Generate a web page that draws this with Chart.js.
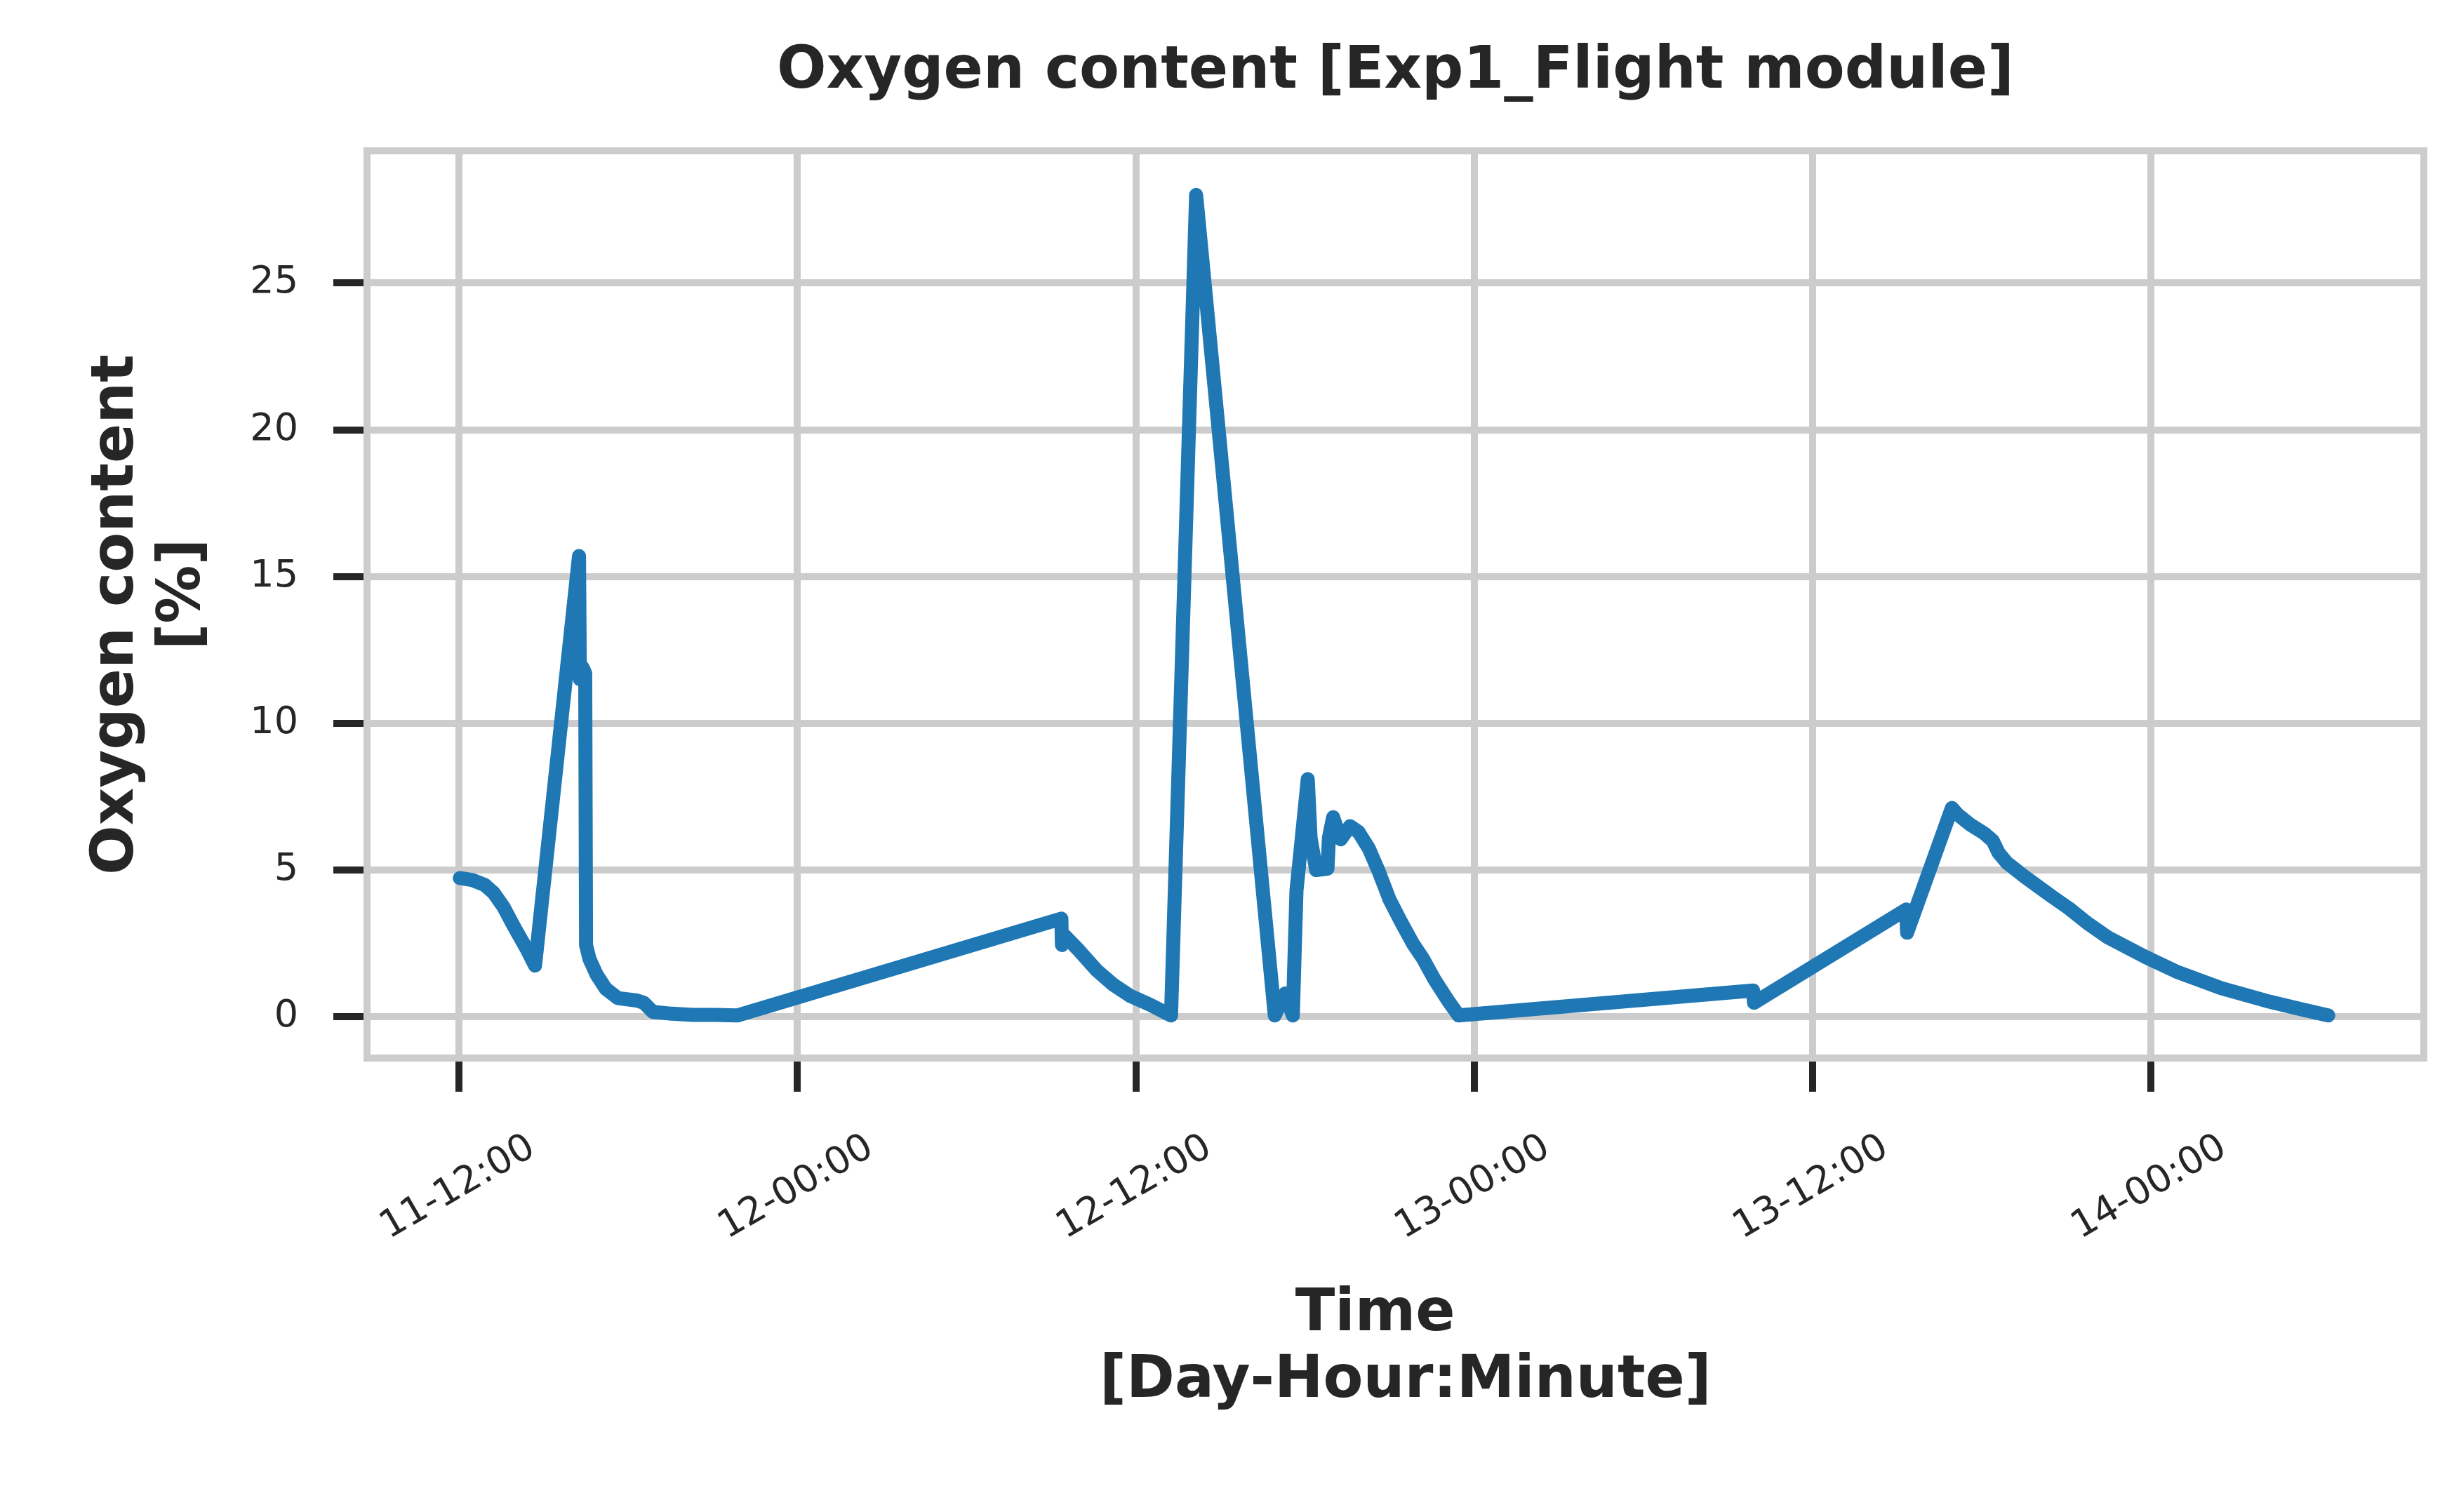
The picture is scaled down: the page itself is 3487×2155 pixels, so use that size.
<!DOCTYPE html>
<html>
<head>
<meta charset="utf-8">
<script src="https://cdn.jsdelivr.net/npm/chart.js@4.4.1/dist/chart.umd.min.js"></script>
<style>
  html, body { margin: 0; padding: 0; background: #ffffff; }
  canvas { display: block; }
</style>
</head>
<body>
<canvas id="oxygenChart" width="3487" height="2155"></canvas>
<script>
// Time in hours since day 11, 00:00
const hours = [
  12.02, 12.47, 12.9, 13.22, 13.57, 13.97, 14.39, 14.69,
  16.25, 16.28, 16.38, 16.47, 16.5, 16.62, 16.88, 17.2, 17.63, 18.3, 18.55, 18.87, 19.44, 20.3, 21.1, 21.86,
  33.36, 33.38, 33.5, 34.0, 34.6, 35.2, 35.8, 36.5, 37.25,
  38.14, 40.93, 41.3, 41.57, 41.7, 42.1, 42.2, 42.4, 42.8, 42.85, 43.0, 43.27, 43.6, 43.9,
  44.26, 44.6, 45.0, 45.43, 45.83, 46.18, 46.58, 47.08, 47.45,
  57.9, 57.93, 63.33, 63.36, 64.95, 65.15, 65.6, 66.1, 66.4, 66.6, 66.9, 67.5,
  68.5, 69.1, 69.75, 70.5, 71.8, 72.9, 74.5, 76.1, 77.4, 78.3
];
// Oxygen content [%]
const oxygen = [
  4.73, 4.66, 4.5, 4.23, 3.75, 3.03, 2.32, 1.75,
  15.7, 11.5, 11.9, 11.7, 2.45, 1.98, 1.43, 0.96, 0.64, 0.56, 0.48, 0.17, 0.12, 0.07, 0.07, 0.05,
  3.35, 2.45, 2.75, 2.25, 1.6, 1.1, 0.72, 0.42, 0.05,
  28.0, 0.05, 0.8, 0.05, 4.3, 8.1, 6.1, 5.0, 5.05, 6.1, 6.8, 6.05, 6.5, 6.3,
  5.75, 5.0, 4.0, 3.2, 2.5, 2.0, 1.3, 0.55, 0.05,
  0.9, 0.48, 3.66, 2.87, 7.12, 6.9, 6.55, 6.25, 6.0, 5.6, 5.25, 4.8,
  4.1, 3.7, 3.2, 2.7, 2.05, 1.55, 0.98, 0.55, 0.25, 0.05
];

const xTickHours = [12, 24, 36, 48, 60, 72];
const xTickLabels = ["11-12:00", "12-00:00", "12-12:00", "13-00:00", "13-12:00", "14-00:00"];
const yTicks = [0, 5, 10, 15, 20, 25];

const textColor = "#262626";
const gridColor = "#cccccc";

// frame around the plot area (all four spines)
const frame = {
  id: "frame",
  beforeDatasetsDraw(chart) {
    const a = chart.chartArea;
    const ctx = chart.ctx;
    ctx.save();
    ctx.strokeStyle = gridColor;
    ctx.lineWidth = 10;
    ctx.strokeRect(a.left, a.top, a.right - a.left, a.bottom - a.top);
    ctx.restore();
  }
};

const ctx = document.getElementById("oxygenChart").getContext("2d");

new Chart(ctx, {
  type: "line",
  data: {
    datasets: [{
      label: "Oxygen content",
      data: hours.map((h, i) => ({ x: h, y: oxygen[i] })),
      borderColor: "#1f77b4",
      borderWidth: 20,
      borderCapStyle: "round",
      borderJoinStyle: "round",
      pointRadius: 0,
      tension: 0,
      fill: false
    }]
  },
  options: {
    responsive: false,
    devicePixelRatio: 1,
    animation: false,
    layout: { padding: { left: 0, right: 33, top: 0, bottom: 0 } },
    plugins: {
      legend: { display: false },
      tooltip: { enabled: false },
      title: { display: false }
    },
    scales: {
      x: {
        type: "linear",
        position: "bottom",
        min: 8.73,
        max: 81.69,
        afterBuildTicks: (scale) => { scale.ticks = xTickHours.map(v => ({ value: v })); },
        afterFit: (scale) => { scale.height = 647; },
        grid: {
          color: gridColor,
          lineWidth: 10,
          tickColor: textColor,
          tickWidth: 10,
          tickLength: 48
        },
        border: { display: false },
        ticks: {
          autoSkip: false,
          minRotation: 30,
          maxRotation: 30,
          padding: 48,
          labelOffset: 104,
          color: textColor,
          font: { family: "DejaVu Sans", size: 54 },
          callback: (value) => xTickLabels[xTickHours.indexOf(value)]
        },
        title: {
          display: true,
          text: ["Time  ", " [Day-Hour:Minute]"],
          color: textColor,
          font: { family: "DejaVu Sans", size: 83, weight: "bold", lineHeight: 1.145 },
          padding: { top: 0, bottom: 138 }
        }
      },
      xTop: {
        type: "linear",
        position: "top",
        afterFit: (scale) => { scale.height = 215; },
        grid: { display: false },
        border: { display: false },
        ticks: { display: false },
        title: {
          display: true,
          text: "Oxygen content [Exp1_Flight module]",
          color: textColor,
          font: { family: "DejaVu Sans", size: 83, weight: "bold", lineHeight: 1.145 },
          padding: { top: 56, bottom: 0 }
        }
      },
      y: {
        type: "linear",
        position: "left",
        min: -1.4,
        max: 29.5,
        afterBuildTicks: (scale) => { scale.ticks = yTicks.map(v => ({ value: v })); },
        afterFit: (scale) => { scale.width = 523; },
        grid: {
          color: gridColor,
          lineWidth: 10,
          tickColor: textColor,
          tickWidth: 10,
          tickLength: 48
        },
        border: { display: false },
        ticks: {
          padding: 50,
          color: textColor,
          font: { family: "DejaVu Sans", size: 54 }
        },
        title: {
          display: true,
          text: ["Oxygen content ", " [%]"],
          color: textColor,
          font: { family: "DejaVu Sans", size: 83, weight: "bold", lineHeight: 1.145 },
          padding: { top: 120, bottom: 0 }
        }
      }
    }
  },
  plugins: [frame]
});
</script>
</body>
</html>
